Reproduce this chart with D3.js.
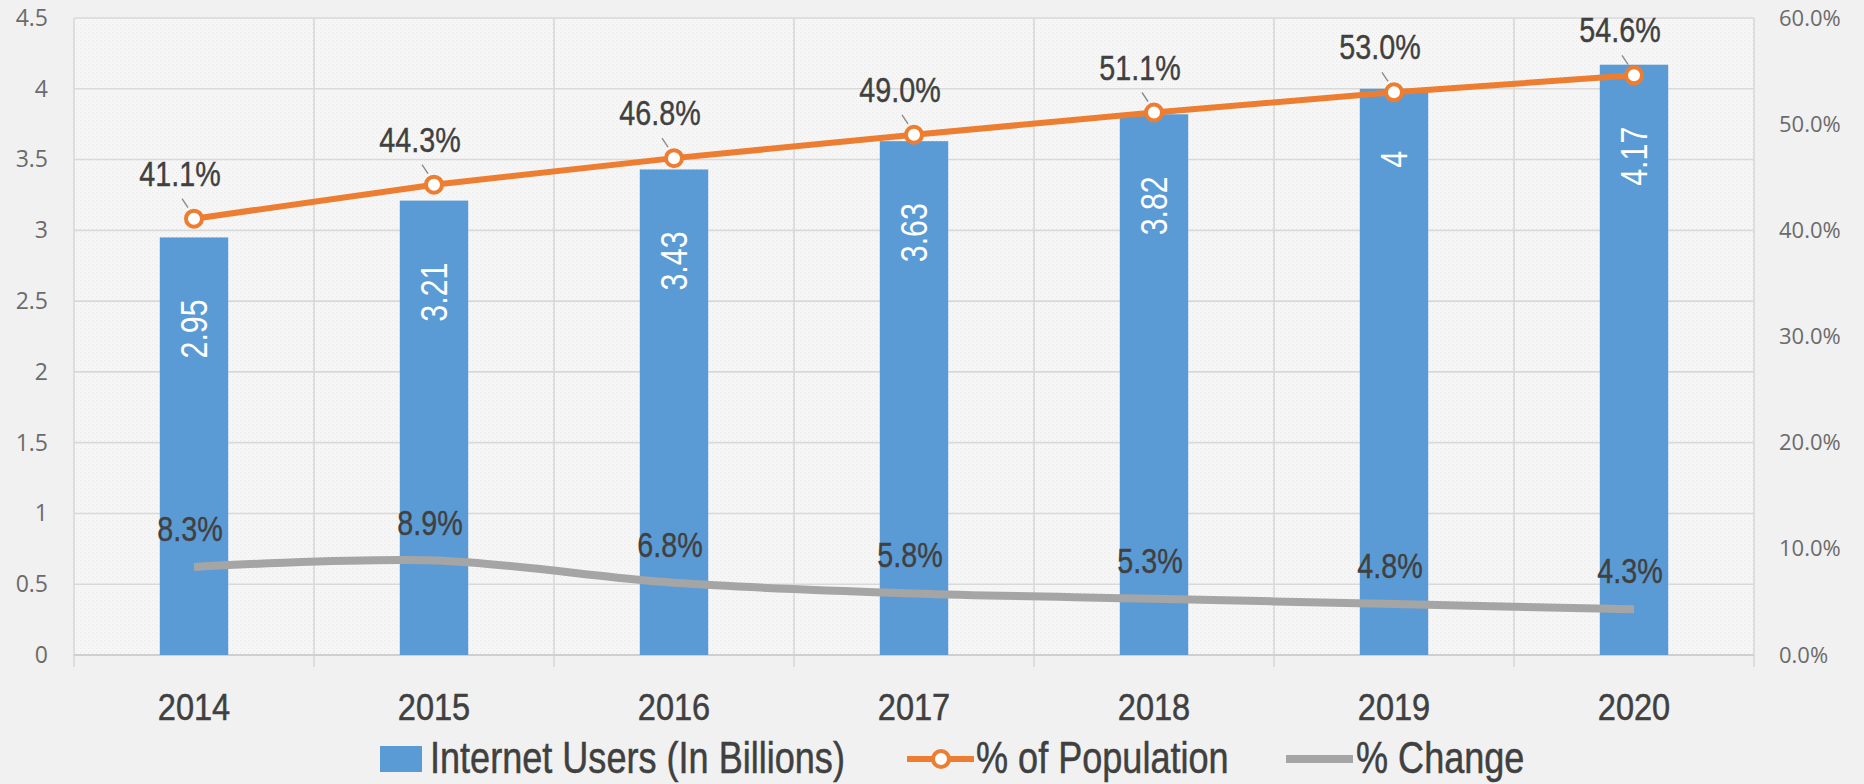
<!DOCTYPE html>
<html>
<head>
<meta charset="utf-8">
<script src="https://cdn.jsdelivr.net/npm/d3@7"></script>
<style>
  html, body { margin: 0; padding: 0; background: #f1f1f1; }
  svg { display: block; }
</style>
</head>
<body>
<svg id="chart" width="1864" height="784"></svg>
<script>
// Internet users worldwide, share of population and yearly growth
const years = ["2014", "2015", "2016", "2017", "2018", "2019", "2020"];
const internetUsers = [2.95, 3.21, 3.43, 3.63, 3.82, 4, 4.17];      // billions
const pctPopulation = [41.1, 44.3, 46.8, 49.0, 51.1, 53.0, 54.6];   // % of population
const pctChange = [8.3, 8.9, 6.8, 5.8, 5.3, 4.8, 4.3];              // % change year on year
const leftTicks = [0, 0.5, 1, 1.5, 2, 2.5, 3, 3.5, 4, 4.5];
const rightTicks = [0, 10, 20, 30, 40, 50, 60];
const legendLabels = ["Internet Users (In Billions)", "% of Population", "% Change"];

const COLORS = { bar: "#5b9bd5", pop: "#ed7d31", change: "#a5a5a5", grid: "#d9d9d9", text: "#404040", axis: "#6b6b6b" };
// condensed look: a sans face squeezed horizontally
const NARROW = "'Liberation Sans', Arimo, Arial, sans-serif";
const SQUEEZE = 0.82;
const AXISFONT = "'Open Sans', 'Noto Sans', sans-serif";

const svg = d3.select("#chart");
const plot = { left: 74, right: 1754, top: 18, bottom: 655 };

const x = d3.scaleBand().domain(years).range([plot.left, plot.right]);
const yL = d3.scaleLinear().domain([0, 4.5]).range([plot.bottom, plot.top]);
const yR = d3.scaleLinear().domain([0, 60]).range([plot.bottom, plot.top]);
const cx = d => x(d) + x.bandwidth() / 2;
const barW = x.bandwidth() * 0.285;

// textured plot area
const defs = svg.append("defs");
const pat = defs.append("pattern").attr("id", "grain").attr("width", 4).attr("height", 4)
  .attr("patternUnits", "userSpaceOnUse");
pat.append("rect").attr("width", 4).attr("height", 4).attr("fill", "#f6f6f6");
pat.append("rect").attr("x", 0).attr("y", 0).attr("width", 1).attr("height", 1).attr("fill", "#e9e9e9");
pat.append("rect").attr("x", 2).attr("y", 2).attr("width", 1).attr("height", 1).attr("fill", "#ececec");

svg.append("rect").attr("x", plot.left).attr("y", plot.top)
  .attr("width", plot.right - plot.left).attr("height", plot.bottom - plot.top)
  .attr("fill", "url(#grain)");

// horizontal gridlines
svg.append("g").selectAll("line").data(leftTicks.filter(t => t > 0)).join("line")
  .attr("x1", plot.left).attr("x2", plot.right)
  .attr("y1", d => yL(d)).attr("y2", d => yL(d))
  .attr("stroke", COLORS.grid).attr("stroke-width", 1.6);

// vertical gridlines at category boundaries, with ticks below the baseline
const bounds = years.map(d => x(d)).concat([plot.right]);
svg.append("g").selectAll("line").data(bounds).join("line")
  .attr("x1", d => d).attr("x2", d => d)
  .attr("y1", plot.top).attr("y2", plot.bottom + 12)
  .attr("stroke", COLORS.grid).attr("stroke-width", 1.6);

// baseline
svg.append("line").attr("x1", plot.left).attr("x2", plot.right)
  .attr("y1", plot.bottom).attr("y2", plot.bottom)
  .attr("stroke", "#cfcfcf").attr("stroke-width", 1.8);

// left axis
const gL = svg.append("g").attr("transform", `translate(${plot.left},0)`)
  .call(d3.axisLeft(yL).tickValues(leftTicks).tickSize(0).tickPadding(26).tickFormat(d => String(d)));
gL.select(".domain").remove();
gL.selectAll("text").attr("font-family", AXISFONT).attr("font-size", 23).attr("fill", COLORS.axis);

// right axis
const gR = svg.append("g").attr("transform", `translate(${plot.right},0)`)
  .call(d3.axisRight(yR).tickValues(rightTicks).tickSize(0).tickPadding(25).tickFormat(d => d.toFixed(1) + "%"));
gR.select(".domain").remove();
gR.selectAll("text").attr("font-family", AXISFONT).attr("font-size", 22).attr("fill", COLORS.axis);

// category axis
const gX = svg.append("g").attr("transform", `translate(0,${plot.bottom})`)
  .call(d3.axisBottom(x).tickSize(0).tickPadding(0));
gX.select(".domain").remove();
gX.selectAll("text").attr("y", 0).attr("dy", 0)
  .attr("transform", "translate(0,65) scale(0.88,1)")
  .attr("font-family", NARROW).attr("font-size", 37).attr("fill", COLORS.text)
  .attr("stroke", COLORS.text).attr("stroke-width", 0.5);

// bars
svg.append("g").selectAll("rect").data(years).join("rect")
  .attr("x", d => cx(d) - barW / 2)
  .attr("width", barW)
  .attr("y", (d, i) => yL(internetUsers[i]))
  .attr("height", (d, i) => plot.bottom - yL(internetUsers[i]))
  .attr("fill", COLORS.bar);

// bar value labels, rotated inside the bar
svg.append("g").selectAll("text").data(years).join("text")
  .attr("transform", (d, i) => `translate(${cx(d)},${yL(internetUsers[i]) + 62}) rotate(-90) scale(${SQUEEZE},1)`)
  .attr("text-anchor", "end").attr("dominant-baseline", "central")
  .attr("font-family", NARROW).attr("font-size", 37).attr("fill", "#ffffff")
  .text((d, i) => String(internetUsers[i]));

// % change: smoothed grey line
const changeLine = d3.line().x(d => cx(d[0])).y(d => yR(d[1])).curve(d3.curveCatmullRom.alpha(0.5));
svg.append("path").datum(years.map((d, i) => [d, pctChange[i]]))
  .attr("d", changeLine).attr("fill", "none")
  .attr("stroke", COLORS.change).attr("stroke-width", 8).attr("stroke-linecap", "butt");

// % of population: straight orange line with hollow markers
const popLine = d3.line().x(d => cx(d[0])).y(d => yR(d[1]));
svg.append("path").datum(years.map((d, i) => [d, pctPopulation[i]]))
  .attr("d", popLine).attr("fill", "none")
  .attr("stroke", COLORS.pop).attr("stroke-width", 6).attr("stroke-linejoin", "round");

// leader lines from labels to markers
svg.append("g").selectAll("line").data(years).join("line")
  .attr("x1", d => cx(d) - 12).attr("x2", d => cx(d) - 6)
  .attr("y1", (d, i) => yR(pctPopulation[i]) - 20).attr("y2", (d, i) => yR(pctPopulation[i]) - 11)
  .attr("stroke", "#8c8c8c").attr("stroke-width", 1.4);

svg.append("g").selectAll("circle").data(years).join("circle")
  .attr("cx", d => cx(d)).attr("cy", (d, i) => yR(pctPopulation[i]))
  .attr("r", 8).attr("fill", "#ffffff")
  .attr("stroke", COLORS.pop).attr("stroke-width", 4);

// value labels for both line series
function squeezedLabel(sel, xf, yf) {
  return sel.attr("transform", (d, i) => `translate(${xf(d, i)},${yf(d, i)}) scale(${SQUEEZE},1)`)
    .attr("text-anchor", "middle").attr("dominant-baseline", "central")
    .attr("font-family", NARROW).attr("font-size", 35).attr("fill", COLORS.text)
    .attr("stroke", COLORS.text).attr("stroke-width", 0.4);
}

squeezedLabel(svg.append("g").selectAll("text").data(years).join("text"),
  d => cx(d) - 14, (d, i) => yR(pctPopulation[i]) - 45)
  .text((d, i) => pctPopulation[i].toFixed(1) + "%");

squeezedLabel(svg.append("g").selectAll("text").data(years).join("text"),
  d => cx(d) - 4, (d, i) => yR(pctChange[i]) - 38)
  .text((d, i) => pctChange[i].toFixed(1) + "%");

// legend
const legend = svg.append("g").attr("font-family", NARROW).attr("font-size", 44)
  .attr("fill", COLORS.text).attr("stroke", COLORS.text).attr("stroke-width", 0.5);
const ly = 759, lb = 773;
const legendText = (x0, s) => legend.append("text")
  .attr("transform", `translate(${x0},${lb}) scale(${SQUEEZE},1)`).text(s);

legend.append("rect").attr("x", 380).attr("y", ly - 13).attr("width", 42).attr("height", 26)
  .attr("fill", COLORS.bar).attr("stroke", "none");
legendText(430, legendLabels[0]);

legend.append("line").attr("x1", 907).attr("x2", 974).attr("y1", ly).attr("y2", ly)
  .attr("stroke", COLORS.pop).attr("stroke-width", 6);
legend.append("circle").attr("cx", 941).attr("cy", ly).attr("r", 8)
  .attr("fill", "#ffffff").attr("stroke", COLORS.pop).attr("stroke-width", 4);
legendText(976, legendLabels[1]);

legend.append("line").attr("x1", 1286).attr("x2", 1353).attr("y1", ly).attr("y2", ly)
  .attr("stroke", COLORS.change).attr("stroke-width", 8);
legendText(1356, legendLabels[2]);
</script>
</body>
</html>
